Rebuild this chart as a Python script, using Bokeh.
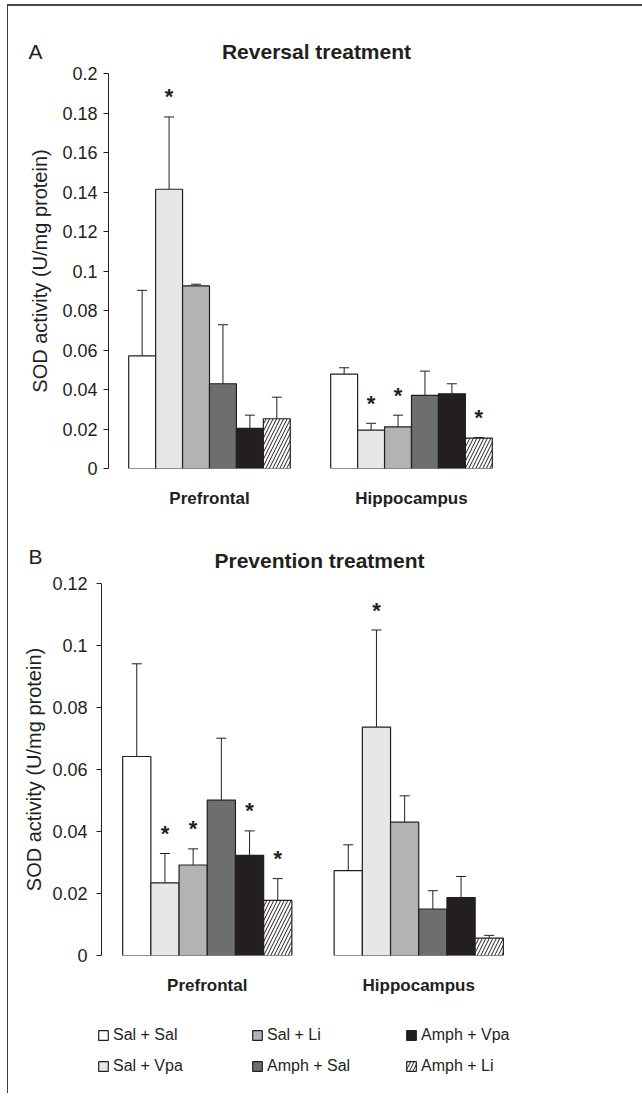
from bokeh.plotting import figure
from bokeh.models import (FactorRange, Range1d, FixedTicker, Whisker, TeeHead,
                          ColumnDataSource, Legend, LegendItem)
from bokeh.transform import dodge
from bokeh.layouts import column
from bokeh.core.properties import value
from bokeh.embed import file_html
from bokeh.resources import INLINE

# ---------------- data ----------------
regions = ["Prefrontal", "Hippocampus"]
groups = ["Sal + Sal", "Sal + Vpa", "Sal + Li", "Amph + Sal", "Amph + Vpa", "Amph + Li"]

# Panel A: reversal treatment (mean, SEM)
reversal_prefrontal = [0.057, 0.1414, 0.0925, 0.0429, 0.0203, 0.0252]
reversal_prefrontal_err = [0.0332, 0.0366, 0.0008, 0.0299, 0.0067, 0.0109]
reversal_hippocampus = [0.0478, 0.0194, 0.0211, 0.0370, 0.0378, 0.0154]
reversal_hippocampus_err = [0.0032, 0.0035, 0.0059, 0.0123, 0.0051, 0.0003]
reversal_sig_prefrontal = [0, 1, 0, 0, 0, 0]
reversal_sig_hippocampus = [0, 1, 1, 0, 0, 1]
reversal_ticks = [0, 0.02, 0.04, 0.06, 0.08, 0.1, 0.12, 0.14, 0.16, 0.18, 0.2]
reversal_tick_labels = ["0", "0.02", "0.04", "0.06", "0.08", "0.1", "0.12", "0.14", "0.16", "0.18", "0.2"]

# Panel B: prevention treatment (mean, SEM)
prevention_prefrontal = [0.0642, 0.0234, 0.0292, 0.0501, 0.0323, 0.0178]
prevention_prefrontal_err = [0.0299, 0.0095, 0.0052, 0.0200, 0.0079, 0.0070]
prevention_hippocampus = [0.0274, 0.0737, 0.0430, 0.0150, 0.0187, 0.0056]
prevention_hippocampus_err = [0.0083, 0.0313, 0.0085, 0.0059, 0.0068, 0.0009]
prevention_sig_prefrontal = [0, 1, 1, 0, 1, 1]
prevention_sig_hippocampus = [0, 1, 0, 0, 0, 0]
prevention_ticks = [0, 0.02, 0.04, 0.06, 0.08, 0.1, 0.12]
prevention_tick_labels = ["0", "0.02", "0.04", "0.06", "0.08", "0.1", "0.12"]

y_label = "SOD activity (U/mg protein)"
titles = ["Reversal treatment", "Prevention treatment"]
letters = ["A", "B"]

# ---------------- style ----------------
FONT = "Liberation Sans"
INK = "#231f20"
FILLS = ["#ffffff", "#e6e7e8", "#b1b3b5", "#6d6e70", "#231f20", "#ffffff"]
HATCH = [None, None, None, None, None, "/"]
BAR_W = 0.8 / 6
OFFSETS = [(i - 2.5) * BAR_W for i in range(6)]
W = 634


def bar_style(i):
    kw = dict(fill_color=FILLS[i], line_color=INK, line_width=1.2)
    if HATCH[i]:
        kw.update(hatch_pattern=HATCH[i], hatch_color=INK, hatch_scale=7, hatch_weight=1)
    return kw


def bare(f):
    f.outline_line_color = None
    f.xgrid.grid_line_color = None
    f.ygrid.grid_line_color = None
    return f


def header(letter, title, h, letter_y, title_x, title_y):
    f = bare(figure(width=W, height=h, x_range=Range1d(0, W), y_range=Range1d(h, 0),
                    x_axis_type=None, y_axis_type=None, output_backend="svg",
                    toolbar_location=None, title_location=None, frame_align=False,
                    min_border_left=0, min_border_right=0, min_border_top=0, min_border_bottom=0))
    f.text(x=[20], y=[letter_y], text=[letter], text_font=value(FONT),
           text_font_size="21px", text_color=INK, text_baseline="middle")
    f.text(x=[title_x], y=[title_y], text=[title], text_font=value(FONT),
           text_font_size="21px", text_font_style="bold", text_color=INK,
           text_align="center", text_baseline="middle")
    return f


def make_panel(pre, pre_err, hip, hip_err, sig_pre, sig_hip, ymax, ticks, tick_labels, g):
    p = bare(figure(x_range=FactorRange(*regions), y_range=Range1d(0, ymax),
                    width=W, height=g["height"], output_backend="svg",
                    toolbar_location=None, title_location=None, frame_align=False,
                    min_border_left=g["left"], min_border_right=g["right"],
                    min_border_top=g["top"], min_border_bottom=g["bottom"]))
    sources = []
    for i, grp in enumerate(groups):
        means = [pre[i], hip[i]]
        errs = [pre_err[i], hip_err[i]]
        uppers = [m + e for m, e in zip(means, errs)]
        src = ColumnDataSource(dict(region=regions, mean=means, upper=uppers))
        sources.append(src)
        xs = dodge("region", OFFSETS[i], range=p.x_range)
        p.vbar(x=xs, top="mean", width=BAR_W, bottom=0, source=src, **bar_style(i))
        p.add_layout(Whisker(base=xs, lower="mean", upper="upper", source=src,
                             line_color=INK, line_width=1,
                             upper_head=TeeHead(size=10, line_color=INK, line_width=1),
                             lower_head=None, level="glyph"))
        flags = [sig_pre[i], sig_hip[i]]
        sig_regions = [regions[k] for k in range(2) if flags[k]]
        sig_y = [uppers[k] for k in range(2) if flags[k]]
        if sig_regions:
            ssrc = ColumnDataSource(dict(region=sig_regions, y=sig_y))
            p.text(x=dodge("region", OFFSETS[i], range=p.x_range), y="y",
                   text=value("*"), source=ssrc, text_font=value(FONT),
                   text_font_style="bold", text_font_size="22px",
                   text_align="center", text_baseline="middle",
                   y_offset=g["star_off"], text_color=INK)

    yax = p.yaxis[0]
    yax.ticker = FixedTicker(ticks=ticks)
    yax.major_label_overrides = {t: l for t, l in zip(ticks, tick_labels)}
    yax.axis_line_color = INK
    yax.major_tick_line_color = INK
    yax.major_tick_out = 5
    yax.major_tick_in = 0
    yax.minor_tick_line_color = None
    yax.major_label_text_font = FONT
    yax.major_label_text_font_size = "18px"
    yax.major_label_text_color = INK
    yax.major_label_standoff = g["tick_standoff"]
    yax.axis_label = y_label
    yax.axis_label_text_font = FONT
    yax.axis_label_text_font_size = "20px"
    yax.axis_label_text_font_style = "normal"
    yax.axis_label_text_color = INK
    yax.axis_label_standoff = g["label_standoff"]

    xax = p.xaxis[0]
    xax.axis_line_color = None
    xax.major_tick_line_color = None
    xax.minor_tick_line_color = None
    xax.major_label_text_font = FONT
    xax.major_label_text_font_size = "17px"
    xax.major_label_text_font_style = "bold"
    xax.major_label_text_color = INK
    xax.major_label_standoff = g["x_standoff"]
    return p, sources


# canvas origin on the page: x = 8, y = 6
hA = header(letters[0], titles[0], 55, 44.5, 308, 44.5)
pA, _ = make_panel(reversal_prefrontal, reversal_prefrontal_err,
                   reversal_hippocampus, reversal_hippocampus_err,
                   reversal_sig_prefrontal, reversal_sig_hippocampus,
                   0.2, reversal_ticks, reversal_tick_labels,
                   dict(height=459, left=100, right=W - 100 - 404, top=12, bottom=52,
                        star_off=-20, tick_standoff=6, label_standoff=8, x_standoff=14))
hB = header(letters[1], titles[1], 52, 35.5, 311, 40)
pB, srcB = make_panel(prevention_prefrontal, prevention_prefrontal_err,
                      prevention_hippocampus, prevention_hippocampus_err,
                      prevention_sig_prefrontal, prevention_sig_hippocampus,
                      0.12, prevention_ticks, prevention_tick_labels,
                      dict(height=435, left=93, right=W - 93 - 423, top=11, bottom=52,
                           star_off=-20, tick_standoff=9, label_standoff=4, x_standoff=14))

# legend strip: same panel-B bars, drawn outside this strip's visible y-range,
# so that only their legend swatches show
fL = bare(figure(width=W, height=86, x_range=FactorRange(*regions), y_range=Range1d(1, 2),
                 x_axis_type=None, y_axis_type=None, output_backend="svg",
                 toolbar_location=None, title_location=None, frame_align=False,
                 min_border_left=0, min_border_right=0, min_border_top=0, min_border_bottom=0))
items = []
for i, grp in enumerate(groups):
    r = fL.vbar(x=dodge("region", OFFSETS[i], range=fL.x_range), top="mean", bottom=0,
                width=BAR_W, source=srcB[i], **bar_style(i))
    items.append(LegendItem(label=grp, renderers=[r]))
legend = Legend(items=items, orientation="vertical", ncols=3, location=(89, 17),
                glyph_width=12, glyph_height=12, label_standoff=4,
                label_width=127, label_height=20, spacing=11,
                padding=0, margin=0, border_line_color=None, background_fill_alpha=0,
                label_text_font=FONT, label_text_font_size="16px", label_text_color=INK)
fL.add_layout(legend, "center")

layout = column(hA, pA, hB, pB, fL, spacing=0,
                styles={"margin-left": "7px", "margin-top": "4px",
                        "border-left": "1px solid #3c3c3c", "border-top": "2px solid #4a4a4a"})

with open("out.html", "w") as f:
    f.write(file_html(layout, INLINE))
